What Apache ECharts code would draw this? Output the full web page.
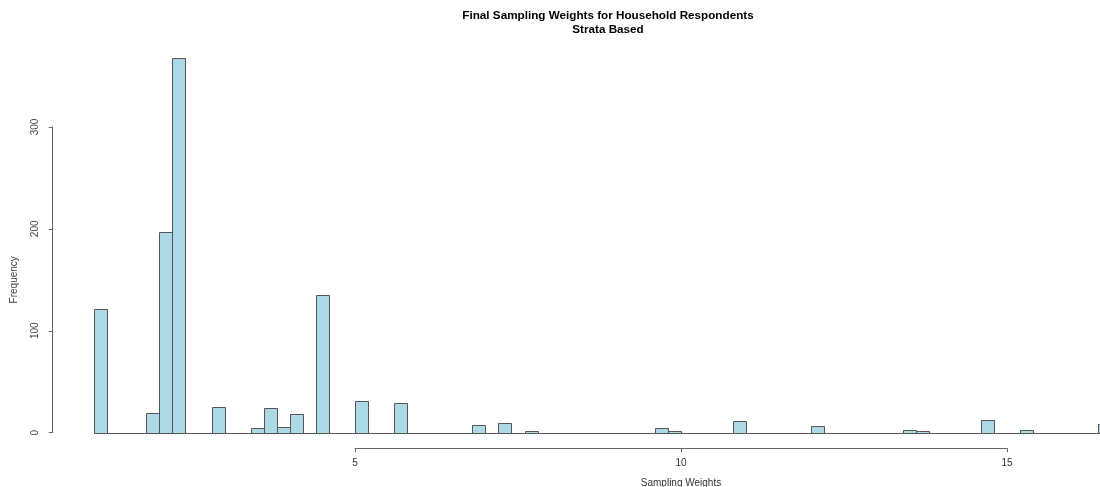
<!DOCTYPE html>
<html>
<head>
<meta charset="utf-8">
<script src="https://cdn.jsdelivr.net/npm/echarts@6/dist/echarts.min.js"></script>
<style>
html,body{margin:0;padding:0;background:#fff;}
#chart{width:1100px;height:487px;}
</style>
</head>
<body>
<div id="chart"></div>
<script>
// Histogram data (bin width 0.2, first break 1.0)
var firstBreak = 1.0;
var binWidth = 0.2;
var counts = [
  121, 0, 0, 0, 19, 197, 368, 0, 0, 25,
  0, 0, 5, 24, 6, 18, 0, 135, 0, 0,
  31, 0, 0, 29, 0, 0, 0, 0, 0, 8,
  0, 10, 0, 2, 0, 0, 0, 0, 0, 0,
  0, 0, 0, 5, 2, 0, 0, 0, 0, 11,
  0, 0, 0, 0, 0, 7, 0, 0, 0, 0,
  0, 0, 3, 2, 0, 0, 0, 0, 12, 0,
  0, 3, 0, 0, 0, 0, 0, 9
];
var xTicks = [5, 10, 15];
var yTicks = [0, 100, 200, 300];
var titleText = 'Final Sampling Weights for Household Respondents\nStrata Based';
var xName = 'Sampling Weights';
var yName = 'Frequency';

var bins = counts.map(function (c, i) {
  var lo = +(firstBreak + i * binWidth).toFixed(2);
  var hi = +(firstBreak + (i + 1) * binWidth).toFixed(2);
  return [lo, hi, c];
});

// pixel mapping of the reference: x=5 at 355px, 65.2 px per unit; y=0 at 432.7, 1.0193 px per unit
var pxPerX = 65.2, x5 = 355;
var xMin = 5 - x5 / pxPerX;
var xMax = 5 + (1100 - x5) / pxPerX;
var pxPerY = 1.0193, y0 = 432.7, gTop = 40;
var yMax = (y0 - gTop) / pxPerY;

var font = 'Liberation Sans, Arial, sans-serif';
var chart = echarts.init(document.getElementById('chart'), null, {renderer: 'canvas'});
chart.setOption({
  animation: false,
  backgroundColor: '#fff',
  title: {
    text: titleText,
    left: 603,
    top: 4,
    textAlign: 'center',
    textStyle: {fontFamily: font, fontSize: 11.7, fontWeight: 'bold', color: '#000', lineHeight: 13.6}
  },
  grid: [
    {left: 0, width: 1100, top: gTop, height: y0 - gTop},
    {left: x5 + (xTicks[0] - 5) * pxPerX, width: (xTicks[xTicks.length - 1] - xTicks[0]) * pxPerX, top: 448, height: 1},
    {left: 52.7, width: 1, top: y0 - yTicks[yTicks.length - 1] * pxPerY, height: yTicks[yTicks.length - 1] * pxPerY}
  ],
  xAxis: [
    {gridIndex: 0, type: 'value', min: xMin, max: xMax, show: false},
    {gridIndex: 1, type: 'value', min: xTicks[0], max: xTicks[xTicks.length - 1], interval: 5,
      axisLine: {show: true, lineStyle: {color: '#666', width: 1}},
      axisTick: {show: true, length: 4, lineStyle: {color: '#666'}},
      splitLine: {show: false},
      axisLabel: {margin: 10, fontFamily: font, fontSize: 10, color: '#333'},
      name: xName, nameLocation: 'middle', nameGap: 30,
      nameTextStyle: {fontFamily: font, fontSize: 10, color: '#333'}
    },
    {gridIndex: 2, type: 'value', show: false}
  ],
  yAxis: [
    {gridIndex: 0, type: 'value', min: 0, max: yMax, show: false},
    {gridIndex: 1, type: 'value', show: false},
    {gridIndex: 2, type: 'value', min: yTicks[0], max: yTicks[yTicks.length - 1], interval: 100,
      axisLine: {show: true, lineStyle: {color: '#666', width: 1}},
      axisTick: {show: true, length: 4, lineStyle: {color: '#666'}},
      splitLine: {show: false},
      axisLabel: {margin: 12, rotate: 90, fontFamily: font, fontSize: 10, color: '#444'},
      name: yName, nameLocation: 'middle', nameGap: 33, nameRotate: 90,
      nameTextStyle: {fontFamily: font, fontSize: 10, color: '#444'}
    }
  ],
  series: [{
    type: 'custom',
    xAxisIndex: 0,
    yAxisIndex: 0,
    data: bins,
    encode: {x: [0, 1], y: 2},
    clip: false,
    renderItem: function (params, api) {
      var p0 = api.coord([api.value(0), api.value(2)]);
      var p1 = api.coord([api.value(1), 0]);
      var x = Math.round(p0[0]) + 0.5;
      var x2 = Math.round(p1[0]) + 0.5;
      var yb = Math.round(p1[1]) + 0.5;
      var yt = Math.round(p0[1]) + 0.5;
      return {
        type: 'rect',
        shape: {x: x, y: yt, width: x2 - x, height: yb - yt},
        style: {fill: '#ADD8E6', stroke: '#555', lineWidth: 1}
      };
    }
  }]
});
</script>
</body>
</html>
